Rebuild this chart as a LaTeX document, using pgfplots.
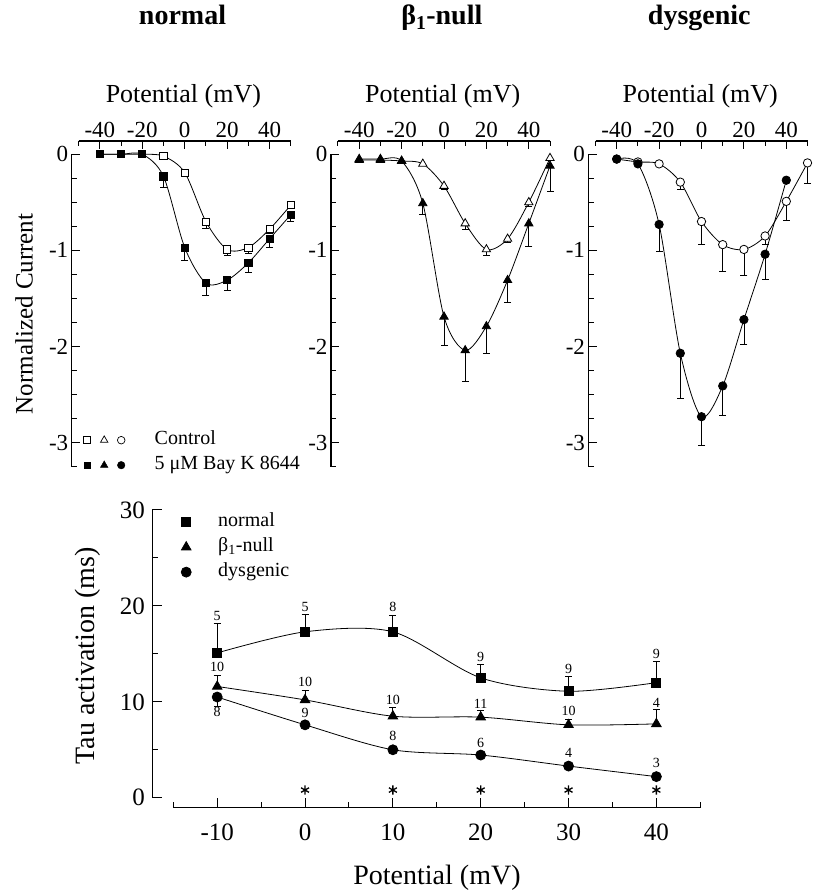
\documentclass[border=0pt]{standalone}
\usepackage{pgfplots}
\pgfplotsset{compat=1.18}
\usepackage{fontspec}
\setmainfont{Liberation Serif}
\newcommand{\fs}[1]{\fontsize{#1}{#1}\selectfont}
\begin{document}
\begin{tikzpicture}
\useasboundingbox (0pt,0pt) rectangle (813pt,894pt);
\pgfplotsset{
  errs/.style={only marks, mark=none, forget plot,
    error bars/y dir=minus, error bars/y explicit,
    error bars/error bar style={line width=0.8pt, black, solid},
    error bars/error mark options={rotate=90, line width=0.8pt, black, mark size=3.5pt}},
  curve/.style={smooth, line width=0.8pt, black},
  topax/.style={
    scale only axis, width=219pt, height=325.7pt,
    xmin=-53.3, xmax=50, ymin=-3.25, ymax=0.138,
    axis x line*=top, axis y line*=left,
    x axis line style={shorten <=7pt, line width=1.1pt},
    y axis line style={shorten >=13.3pt, line width=1.1pt},
    xtick={-40,-20,0,20,40}, xticklabels={-40,-20,0,20,40},
    minor xtick={-50,-30,-10,10,30,50},
    ytick={-3,-2,-1,0}, yticklabels={-3,-2,-1,0},
    minor ytick={-3.25,-2.75,-2.5,-2.25,-1.75,-1.5,-1.25,-0.75,-0.5,-0.25},
    tick align=inside, major tick length=8pt, minor tick length=5pt,
    tick style={black, line width=1pt},
    ticklabel style={font=\fs{23}},
    xlabel={Potential (mV)},
    xlabel style={font=\fs{26}, at={(axis description cs:0.51,1.138)}, anchor=center},
    title style={at={(axis description cs:0.506,1.3387)}, anchor=base, font=\fs{28}\bfseries},
    clip=false,
  },
}
% ---------------- panel 1: normal ----------------
\begin{axis}[topax, at={(71.7pt,753pt)}, anchor=north west,
  title={normal}, ylabel={Normalized Current},
  ylabel style={font=\fs{25}, at={(axis description cs:-0.218,0.469)}, anchor=center},
  legend columns=3, legend cell align=left,
  legend image code/.code={\draw[#1] plot coordinates {(0pt,0pt)}; \path[draw=none] (-4.5pt,0pt) -- (4.5pt,0pt);},
  legend style={draw=none, fill=none, inner sep=0pt, row sep=4pt,
     at={(axis cs:-48.2,-2.863)}, anchor=north west,
     nodes={inner sep=1pt, text height=14pt, text depth=5pt, font=\fs{20}},
     /tikz/every even column/.append style={column sep=6pt}},
]
\addplot[errs] coordinates {(10,-0.70) +- (0,0.07) (20,-0.99) +- (0,0.06) (30,-0.97) +- (0,0.06) (40,-0.78) +- (0,0.04) (50,-0.53) +- (0,0.03)};
\addplot[errs] coordinates {(-10,-0.23) +- (0,0.11) (0,-0.97) +- (0,0.13) (10,-1.34) +- (0,0.13) (20,-1.31) +- (0,0.11) (30,-1.13) +- (0,0.10) (40,-0.88) +- (0,0.09) (50,-0.63) +- (0,0.07)};
\addplot[curve, forget plot, mark=square*, mark options={solid, fill=white, mark size=3.6pt}] coordinates {(-40,0) (-30,0) (-20,0) (-10,-0.02) (0,-0.19) (10,-0.70) (20,-0.99) (30,-0.97) (40,-0.78) (50,-0.53)};
\addplot[curve, forget plot, mark=square*, mark options={solid, fill=black, mark size=3.6pt}] coordinates {(-40,0) (-30,0) (-20,0) (-10,-0.23) (0,-0.97) (10,-1.34) (20,-1.31) (30,-1.13) (40,-0.88) (50,-0.63)};
\addlegendimage{draw=none, mark=square*, mark options={draw=black, solid, fill=white, line width=0.7pt}, mark size=3.4pt}
\addlegendentry{\mbox{}}
\addlegendimage{draw=none, mark=triangle*, mark options={draw=black, solid, fill=white, line width=0.7pt}, mark size=4.3pt}
\addlegendentry{\mbox{}}
\addlegendimage{draw=none, mark=*, mark options={draw=black, solid, fill=white, line width=0.7pt}, mark size=3.8pt}
\addlegendentry{\hspace*{28pt}Control}
\addlegendimage{draw=none, mark=square*, mark options={draw=black, solid, fill=black}, mark size=3.4pt}
\addlegendentry{\mbox{}}
\addlegendimage{draw=none, mark=triangle*, mark options={draw=black, solid, fill=black}, mark size=4.3pt}
\addlegendentry{\mbox{}}
\addlegendimage{draw=none, mark=*, mark options={draw=black, solid, fill=black}, mark size=3.8pt}
\addlegendentry{\hspace*{28pt}5 μM Bay K 8644}
\end{axis}
% ---------------- panel 2: beta1-null ----------------
\begin{axis}[topax, at={(331pt,753pt)}, anchor=north west,
  title={β\textsubscript{1}-null}]
\addplot[errs] coordinates {(0,-0.33) +- (0,0.04) (10,-0.72) +- (0,0.06) (20,-0.99) +- (0,0.06) (30,-0.88) +- (0,0.04) (40,-0.50) +- (0,0.04)};
\addplot[errs] coordinates {(-10,-0.51) +- (0,0.12) (0,-1.69) +- (0,0.30) (10,-2.04) +- (0,0.32) (20,-1.79) +- (0,0.28) (30,-1.31) +- (0,0.23) (40,-0.72) +- (0,0.24) (50,-0.12) +- (0,0.27)};
\addplot[curve, forget plot, mark=triangle*, mark options={solid, fill=white, mark size=4.8pt}] coordinates {(-40,-0.06) (-30,-0.06) (-20,-0.07) (-10,-0.10) (0,-0.33) (10,-0.72) (20,-0.99) (30,-0.88) (40,-0.50) (50,-0.04)};
\addplot[curve, forget plot, mark=triangle*, mark options={solid, fill=black, mark size=4.8pt}] coordinates {(-40,-0.05) (-30,-0.05) (-20,-0.07) (-10,-0.51) (0,-1.69) (10,-2.04) (20,-1.79) (30,-1.31) (40,-0.72) (50,-0.12)};
\end{axis}
% ---------------- panel 3: dysgenic ----------------
\begin{axis}[topax, at={(588.5pt,753pt)}, anchor=north west,
  title={dysgenic}]
\addplot[errs] coordinates {(-10,-0.29) +- (0,0.08) (0,-0.70) +- (0,0.24) (10,-0.94) +- (0,0.28) (20,-0.99) +- (0,0.27) (30,-0.85) +- (0,0.09) (40,-0.49) +- (0,0.20) (50,-0.09) +- (0,0.21)};
\addplot[errs] coordinates {(-20,-0.73) +- (0,0.28) (-10,-2.07) +- (0,0.47) (0,-2.73) +- (0,0.30) (10,-2.41) +- (0,0.31) (20,-1.72) +- (0,0.26) (30,-1.04) +- (0,0.26)};
\addplot[curve, forget plot, mark=*, mark options={solid, fill=white, mark size=4.2pt}] coordinates {(-40,-0.05) (-30,-0.08) (-20,-0.10) (-10,-0.29) (0,-0.70) (10,-0.94) (20,-0.99) (30,-0.85) (40,-0.49) (50,-0.09)};
\addplot[curve, forget plot, mark=*, mark options={solid, fill=black, mark size=4.2pt}] coordinates {(-40,-0.05) (-30,-0.10) (-20,-0.73) (-10,-2.07) (0,-2.73) (10,-2.41) (20,-1.72) (30,-1.04) (40,-0.27)};
\end{axis}
% ---------------- bottom panel: tau activation ----------------
\begin{axis}[scale only axis, width=548pt, height=297.7pt,
  at={(152.3pt,384pt)}, anchor=north west,
  xmin=-17.39, xmax=45, ymin=-1.04, ymax=30,
  axis x line*=bottom, axis y line*=left,
  x axis line style={shorten <=21pt, line width=1.1pt},
  y axis line style={shorten <=10pt, line width=1.1pt},
  xtick={-10,0,10,20,30,40}, xticklabels={-10,0,10,20,30,40},
  minor xtick={-15,-5,5,15,25,35,45},
  ytick={0,10,20,30}, yticklabels={0,10,20,30}, minor ytick={5,15,25},
  tick align=inside, major tick length=10pt, minor tick length=5.5pt,
  tick style={black, line width=1pt},
  ticklabel style={font=\fs{25}},
  xticklabel style={yshift=-13pt},
  yticklabel style={xshift=-4pt},
  xlabel={Potential (mV)}, ylabel={Tau activation (ms)},
  label style={font=\fs{28}},
  xlabel style={at={(axis description cs:0.5195,-0.236)}, anchor=center},
  ylabel style={at={(axis description cs:-0.1173,0.51)}, anchor=center},
  clip=false,
  legend image code/.code={\draw[#1] plot coordinates {(0pt,0pt)}; \path[draw=none] (-5pt,0pt) -- (31pt,0pt);},
  legend cell align=left,
  legend style={draw=none, fill=none, inner sep=0pt, row sep=4pt,
    at={(axis cs:-14.12,29.85)}, anchor=north west,
    nodes={inner sep=1pt, text height=14pt, text depth=5pt, font=\fs{20}}},
]
\addplot[errs, error bars/y dir=plus] coordinates {(-10,15.1) +- (0,3.1) (0,17.3) +- (0,1.8) (10,17.3) +- (0,1.7) (20,12.5) +- (0,1.4) (30,11.1) +- (0,1.5) (40,12.0) +- (0,2.2)};
\addplot[errs, error bars/y dir=plus] coordinates {(-10,11.6) +- (0,1.2) (0,10.2) +- (0,1.0) (10,8.5) +- (0,0.9) (20,8.4) +- (0,0.7) (30,7.6) +- (0,0.6) (40,7.7) +- (0,1.5)};
\addplot[errs] coordinates {(-10,10.5) +- (0,1.0)};
\addplot[curve, mark=square*, mark options={solid, fill=black, mark size=4.5pt}] coordinates {(-10,15.1) (0,17.3) (10,17.3) (20,12.5) (30,11.1) (40,12.0)};
\addlegendentry{normal}
\addplot[curve, mark=triangle*, mark options={solid, fill=black, mark size=5.5pt}] coordinates {(-10,11.6) (0,10.2) (10,8.5) (20,8.4) (30,7.6) (40,7.7)};
\addlegendentry{β\textsubscript{1}-null}
\addplot[curve, mark=*, mark options={solid, fill=black, mark size=5pt}] coordinates {(-10,10.5) (0,7.6) (10,5.0) (20,4.45) (30,3.3) (40,2.2)};
\addlegendentry{dysgenic}
\addplot[only marks, forget plot, mark=asterisk, mark size=4.6pt, line width=1.3pt] coordinates {(0,0.8) (10,0.8) (20,0.8) (30,0.8) (40,0.8)};
\begin{scope}[every node/.style={font=\fs{14}}]
\node at (axis cs:-10,18.95) {5};
\node at (axis cs:0,19.9) {5};
\node at (axis cs:10,19.9) {8};
\node at (axis cs:20,14.7) {9};
\node at (axis cs:30,13.4) {9};
\node at (axis cs:40,15.0) {9};
\node at (axis cs:-10,13.65) {10};
\node at (axis cs:0,12.1) {10};
\node at (axis cs:10,10.25) {10};
\node at (axis cs:20,9.8) {11};
\node at (axis cs:30,9.1) {10};
\node at (axis cs:40,9.9) {4};
\node at (axis cs:-10,8.9) {8};
\node at (axis cs:0,8.8) {9};
\node at (axis cs:10,6.4) {8};
\node at (axis cs:20,5.7) {6};
\node at (axis cs:30,4.7) {4};
\node at (axis cs:40,3.6) {3};
\end{scope}
\end{axis}
\end{tikzpicture}
\end{document}
